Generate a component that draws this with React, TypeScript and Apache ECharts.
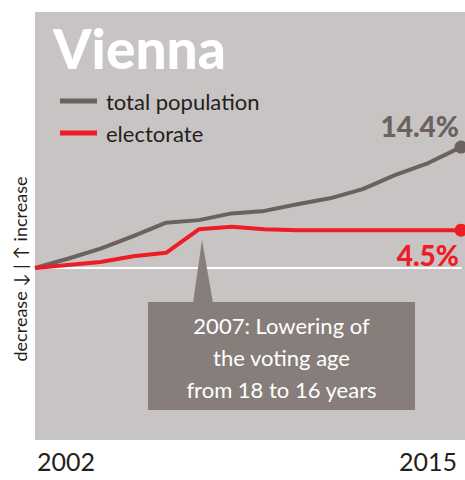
import React, { useEffect, useRef } from "react";
import * as echarts from "echarts";

const years = [2002, 2003, 2004, 2005, 2006, 2007, 2008, 2009, 2010, 2011, 2012, 2013, 2014, 2015];
const population = [0, 1.1, 2.3, 3.8, 5.4, 5.7, 6.5, 6.8, 7.6, 8.3, 9.4, 11.1, 12.5, 14.4];
const electorate = [0, 0.35, 0.7, 1.4, 1.8, 4.6, 4.9, 4.6, 4.5, 4.5, 4.5, 4.5, 4.5, 4.5];
const seriesNames = ["total population", "electorate"];
const titleText = "Vienna";
const sideText = "decrease \u2193 | \u2191 increase";
const noteLines = ["2007: Lowering of", "the voting age", "from 18 to 16 years"];

const GRAY = "#6b625f";
const RED = "#ee1c25";
const BG = "#c8c4c3";
const BOX = "#877e7b";
const DARK = "#231f20";
const FONT = "Lato, 'Open Sans', sans-serif";

function build(values: number[], color: string, labelPos: "top" | "bottom", dist: number) {
  return values.map((v, i) => {
    const last = i === values.length - 1;
    if (!last) return { value: [years[i], v] };
    return {
      value: [years[i], v],
      symbol: "circle",
      symbolSize: 13,
      itemStyle: { color },
      label: {
        show: true,
        position: labelPos,
        distance: dist,
        align: "right",
        offset: [-2, 0],
        color,
        fontFamily: FONT,
        fontWeight: 900,
        fontSize: 28,
        formatter: (p: any) => p.value[1].toFixed(1) + "%",
      },
    };
  });
}

export default function App() {
  const ref = useRef<HTMLDivElement>(null);
  useEffect(() => {
    if (!ref.current) return;
    const chart = echarts.init(ref.current, undefined, { renderer: "svg" });
    chart.setOption({
      animation: false,
      title: {
        text: titleText,
        left: 48,
        top: 15,
        textStyle: { color: "#ffffff", fontSize: 55, fontWeight: 900, fontFamily: FONT },
      },
      legend: {
        data: seriesNames,
        orient: "vertical",
        left: 55,
        top: 85,
        itemWidth: 37,
        itemHeight: 5,
        itemGap: 10,
        icon: "rect",
        textStyle: { color: DARK, fontSize: 22, fontFamily: FONT, padding: [0, 0, 0, 4] },
      },
      grid: { left: 35, right: 4, top: 12, bottom: 40 },
      xAxis: {
        type: "value",
        min: 2002,
        max: 2015,
        interval: 13,
        axisLine: { show: true, onZero: true, lineStyle: { color: "#ffffff", width: 2 } },
        axisTick: { show: false },
        splitLine: { show: false },
        axisLabel: {
          show: true,
          color: DARK,
          fontSize: 25,
          fontFamily: FONT,
          margin: 8,
          padding: [0, 4, 0, 2],
          alignMinLabel: "left",
          alignMaxLabel: "right",
          formatter: (v: number) => String(v),
        },
      },
      yAxis: {
        type: "value",
        min: -20.5,
        max: 30.5,
        show: false,
        splitLine: { show: false },
      },
      graphic: [
        {
          type: "rect",
          z: -10,
          shape: { x: 35, y: 12, width: 430, height: 428 },
          style: { fill: BG },
          silent: true,
        },
        {
          type: "text",
          x: 20,
          y: 269,
          rotation: Math.PI / 2,
          style: {
            text: sideText,
            align: "center",
            verticalAlign: "middle",
            fontSize: 18,
            fontFamily: FONT,
            fill: DARK,
          },
        },
        {
          type: "polygon",
          z: 10,
          shape: { points: [[193, 303], [213, 303], [202, 240]] },
          style: { fill: BOX },
        },
        {
          type: "rect",
          z: 10,
          shape: { x: 148, y: 302, width: 267, height: 108 },
          style: { fill: BOX },
        },
        {
          type: "text",
          z: 11,
          x: 281.5,
          y: 357,
          style: {
            text: noteLines.join("\n"),
            align: "center",
            verticalAlign: "middle",
            fontSize: 22,
            lineHeight: 32,
            fontFamily: FONT,
            fill: "#ffffff",
          },
        },
      ],
      series: [
        {
          name: seriesNames[0],
          type: "line",
          symbol: "none",
          showSymbol: true,
          color: GRAY,
          lineStyle: { color: GRAY, width: 4 },
          data: build(population, GRAY, "top", 1),
          z: 3,
        },
        {
          name: seriesNames[1],
          type: "line",
          symbol: "none",
          showSymbol: true,
          color: RED,
          lineStyle: { color: RED, width: 4 },
          data: build(electorate, RED, "bottom", 4),
          z: 4,
        },
      ],
    });
    return () => chart.dispose();
  }, []);
  return <div ref={ref} style={{ width: 465, height: 480, position: "absolute", left: 0, top: 0 }} />;
}
